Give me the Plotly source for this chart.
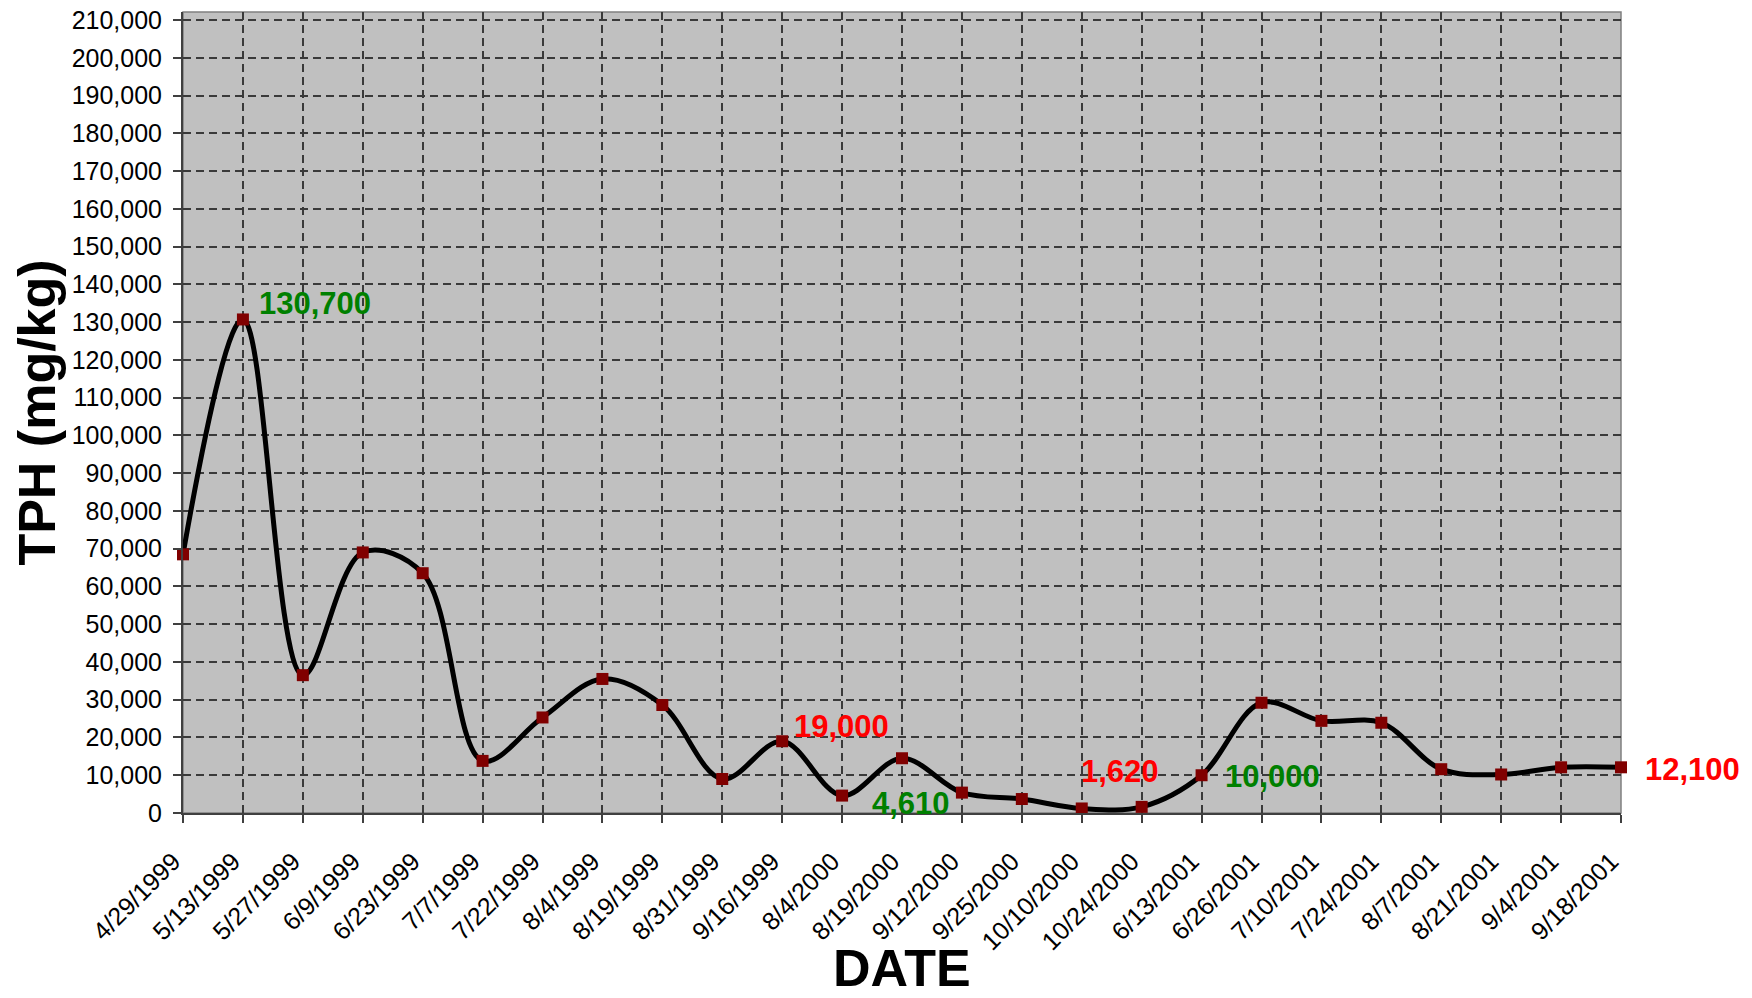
import plotly.graph_objects as go

# ---- data ----
dates = ["4/29/1999", "5/13/1999", "5/27/1999", "6/9/1999", "6/23/1999", "7/7/1999",
         "7/22/1999", "8/4/1999", "8/19/1999", "8/31/1999", "9/16/1999", "8/4/2000",
         "8/19/2000", "9/12/2000", "9/25/2000", "10/10/2000", "10/24/2000", "6/13/2001",
         "6/26/2001", "7/10/2001", "7/24/2001", "8/7/2001", "8/21/2001", "9/4/2001",
         "9/18/2001"]
tph = [68500, 130700, 36500, 69000, 63500, 13800, 25300, 35500, 28600, 9000, 19000, 4610,
       14500, 5400, 3700, 1200, 1620, 10000, 29200, 24400, 23900, 11600, 10200, 12100, 12100]

label_dates = ["5/13/1999", "9/16/1999", "8/4/2000", "10/24/2000", "6/13/2001", "9/18/2001"]
label_text = ["130,700", "19,000", "4,610", "1,620", "10,000", "12,100"]
label_color = ["#008000", "#FF0000", "#008000", "#FF0000", "#008000", "#FF0000"]

y_ticks = list(range(0, 210001, 10000))

# ---- styling for labels (pixel offsets) ----
label_style = [
    dict(xanchor="left", xshift=14, yshift=16),
    dict(xanchor="left", xshift=10, yshift=15),
    dict(xanchor="left", xshift=28, yshift=-8),
    dict(xanchor="right", xshift=19, yshift=35),
    dict(xanchor="left", xshift=21, yshift=-1),
    dict(xanchor="left", xshift=22, yshift=-2),
]

FONT = "Liberation Sans, Arial, sans-serif"

fig = go.Figure()
fig.add_trace(go.Scatter(
    x=dates, y=tph, mode="lines+markers",
    line=dict(color="black", width=5, shape="spline", smoothing=1),
    marker=dict(symbol="square", size=12, color="#800000",
                line=dict(color="#800000", width=0)),
    showlegend=False, cliponaxis=False,
))

for d, t, c, s in zip(label_dates, label_text, label_color, label_style):
    fig.add_annotation(
        x=d, y=tph[dates.index(d)], text="<b>" + t + "</b>", showarrow=False,
        font=dict(family=FONT, size=31, color=c), yanchor="middle", **s)

# x-axis title
fig.add_annotation(
    x=0.5, y=0, xref="paper", yref="paper", text="<b>DATE</b>", showarrow=False,
    xanchor="center", yanchor="middle", yshift=-155,
    font=dict(family=FONT, size=52, color="black"))

fig.update_layout(
    width=1736, height=990,
    margin=dict(l=175, r=123, t=4, b=185),
    paper_bgcolor="white", plot_bgcolor="#C0C0C0",
    font=dict(family=FONT, color="black"),
)

fig.update_xaxes(
    type="category", range=[0, len(dates) - 1],
    tickmode="array", tickvals=dates, ticktext=[d + "\u00a0\u00a0" for d in dates],
    tickangle=-45, tickfont=dict(family=FONT, size=25, color="black"),
    ticks="outside", ticklen=8, tickwidth=1.5, tickcolor="#404040",
    ticklabelstandoff=4,
    showgrid=True, gridcolor="#3a3a3a", gridwidth=1.5, griddash="8px,5px",
    showline=True, linecolor="#404040", linewidth=2,
    automargin=False,
)
fig.update_yaxes(
    range=[0, 212119], tickvals=y_ticks, tickformat=",d",
    tickfont=dict(family=FONT, size=25, color="black"),
    ticks="outside", ticklen=8, tickwidth=1.5, tickcolor="#404040",
    ticklabelstandoff=6, ticklabeloverflow="allow",
    showgrid=True, gridcolor="#3a3a3a", gridwidth=1.5, griddash="8px,5px",
    showline=True, linecolor="#404040", linewidth=2,
    zeroline=False,
    title=dict(text="<b>TPH (mg/kg)</b>", font=dict(family=FONT, size=52), standoff=6),
    automargin=False,
)

# plot area border (top/right)
fig.add_shape(type="rect", xref="paper", yref="paper", x0=0, y0=0, x1=1, y1=1,
              line=dict(color="#808080", width=1.5), layer="below")

fig.write_html("out.html")
